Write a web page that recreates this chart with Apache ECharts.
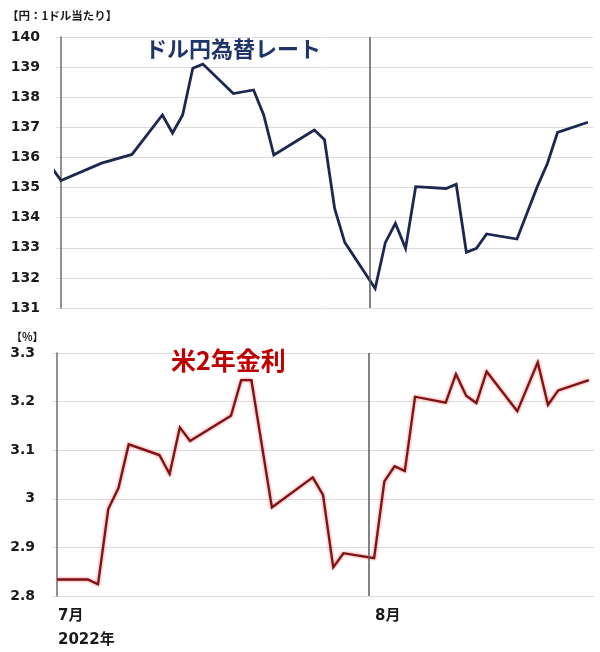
<!DOCTYPE html>
<html>
<head>
<meta charset="utf-8">
<script src="https://cdn.jsdelivr.net/npm/echarts@6/dist/echarts.min.js"></script>
<style>
html,body{margin:0;padding:0;background:#fff;}
#c{width:600px;height:652px;}
</style>
</head>
<body>
<div id="c"></div>
<script>
// ---- data ----
const fxDates = ['06-30','07-01','07-05','07-08','07-11','07-12','07-13','07-14','07-15','07-18','07-20','07-21','07-22','07-26','07-27','07-28','07-29',
  '08-01','08-02','08-03','08-04','08-05','08-08','08-09','08-10','08-11','08-12','08-15','08-17','08-18','08-19','08-22'];
const fxValues = [135.70,135.23,135.81,136.10,137.41,136.81,137.41,138.96,139.10,138.12,138.24,137.41,136.08,136.91,136.59,134.31,133.18,
  131.65,133.17,133.81,132.98,135.03,134.97,135.11,132.85,132.98,133.46,133.29,135.03,135.80,136.83,137.17];

const ylDates = ['07-01','07-04','07-05','07-06','07-07','07-08','07-11','07-12','07-13','07-14','07-18','07-19','07-20','07-22','07-26','07-27','07-28','07-29',
  '08-01','08-02','08-03','08-04','08-05','08-08','08-09','08-10','08-11','08-12','08-15','08-17','08-18','08-19','08-22'];
const ylValues = [2.834,2.834,2.824,2.979,3.022,3.112,3.090,3.051,3.147,3.119,3.171,3.244,3.244,2.982,3.044,3.008,2.859,2.888,
  2.878,3.036,3.067,3.057,3.210,3.198,3.257,3.212,3.197,3.262,3.180,3.281,3.193,3.223,3.244];

const year = '2022';
const startDate = '07-01';   // day 0
const endDate = '08-22';
const monthStarts = ['07-01','08-01'];
const monthLabels = ['7月\n2022年','8月'];
const fxTicks = [131,132,133,134,135,136,137,138,139,140];
const ylTicks = [2.8,2.9,3.0,3.1,3.2,3.3];

const fxTitle = 'ドル円為替レート';
const ylTitle = '米2年金利';
const fxUnit = '【円：1ドル当たり】';
const ylUnit = '【%】';

// ---- helpers ----
function dayIdx(md){
  return (Date.parse(year+'-'+md+'T00:00:00Z') - Date.parse(year+'-'+startDate+'T00:00:00Z'))/86400000;
}
const lastDay = dayIdx(endDate);
const boundaries = monthStarts.map(d => dayIdx(d) - 0.5);
const fxData = fxDates.map((d,i)=>[dayIdx(d), fxValues[i]]);
const ylData = ylDates.map((d,i)=>[dayIdx(d), ylValues[i]]);

const numFont = '"DejaVu Sans", Verdana, sans-serif';
const jpFont = '"Noto Sans CJK JP", sans-serif';

function xAxisCfg(gridIndex, showLabels){
  return {
    type:'value', gridIndex, min: -0.5, max: lastDay + 0.5,
    axisLine:{show:false}, axisTick:{show:false}, splitLine:{show:false},
    axisLabel:{
      show: showLabels,
      customValues: boundaries,
      formatter: v => monthLabels[boundaries.findIndex(b => Math.abs(b - v) < 1e-6)] || '',
      align:'left', padding:[0,0,0,6], margin:8,
      fontFamily: numFont + ',' + jpFont, fontWeight:'bold', fontSize:15, lineHeight:24, color:'#1a1a1a'
    }
  };
}
function yAxisCfg(gridIndex, ticks, interval, margin){
  return {
    type:'value', gridIndex, min: ticks[0], max: ticks[ticks.length-1], interval,
    axisLine:{show:true, lineStyle:{color:'#6e6e6e', width:1.5}},
    axisTick:{show:false},
    splitLine:{show:true, lineStyle:{color:'#dcdcdc', width:1}},
    axisLabel:{fontFamily:numFont, fontWeight:'bold', fontSize:14, color:'#1a1a1a', margin}
  };
}
const vline = {
  silent:true, symbol:['none','none'], label:{show:false},
  lineStyle:{color:'#5a5a5a', width:1.5, type:'solid'},
  data: [{xAxis: boundaries[1]}]
};

const chart = echarts.init(document.getElementById('c'), null, {renderer:'canvas'});
chart.setOption({
  animation:false,
  backgroundColor:'#ffffff',
  title:[
    {text: fxUnit, left:2, top:5, textStyle:{fontFamily:jpFont, fontWeight:'bold', fontSize:11.5, color:'#1a1a1a'}},
    {text: fxTitle, left:140, top:33, textStyle:{fontFamily:jpFont, fontWeight:'bold', fontSize:22, color:'#1f3468'}},
    {text: ylUnit, left:6, top:326, textStyle:{fontFamily:jpFont, fontWeight:'bold', fontSize:11, color:'#1a1a1a'}},
    {text: ylTitle, left:166, top:343, textStyle:{fontFamily:jpFont, fontWeight:'bold', fontSize:25, color:'#c00000'}}
  ],
  grid:[
    {left:56, right:7, top:37, height:271},
    {left:52, right:6, top:353, height:247}
  ],
  xAxis:[xAxisCfg(0,false), xAxisCfg(1,true)],
  yAxis:[yAxisCfg(0, fxTicks, 1, 16), yAxisCfg(1, ylTicks, 0.1, 17)],
  series:[
    {type:'line', xAxisIndex:0, yAxisIndex:0, data:fxData, showSymbol:false, symbol:'none', clip:true,
     lineStyle:{color:'#1c2850', width:2.8, join:'miter'}, markLine: vline, z:3},
    {type:'line', xAxisIndex:1, yAxisIndex:1, data:ylData, showSymbol:false, symbol:'none', clip:true,
     lineStyle:{color:'#7a1515', width:2.3, shadowColor:'rgba(255,0,0,0.6)', shadowBlur:3, join:'miter'}, markLine: vline, z:3}
  ]
});
</script>
</body>
</html>
